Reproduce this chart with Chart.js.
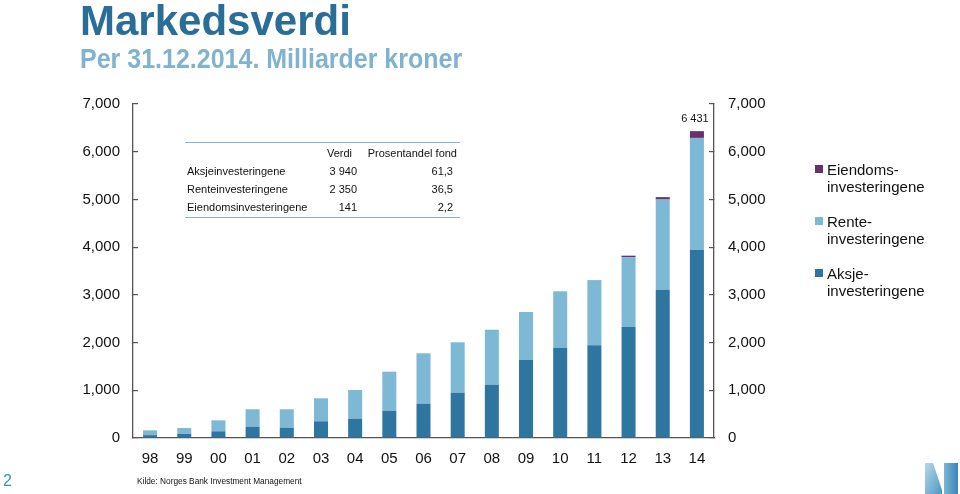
<!DOCTYPE html>
<html>
<head>
<meta charset="utf-8">
<script src="https://cdn.jsdelivr.net/npm/chart.js@4"></script>
<style>
  html, body { margin:0; padding:0; background:#fff; }
  #wrap { position:relative; width:960px; height:494px; overflow:hidden; font-family:"Liberation Sans", Arial, sans-serif; }
  #c { position:absolute; left:0; top:0; }
  .abs { position:absolute; white-space:nowrap; }
  #title { left:80px; top:0px; font-size:42px; line-height:42px; font-weight:bold; color:#2a6e97; }
  #subtitle { left:80px; top:47px; font-size:25px; line-height:25px; font-weight:bold; color:#7fb3d0; transform:scaleY(1.1); transform-origin:0 21px; }
  .tcell { font-size:11px; line-height:12px; color:#111; }
  .tline { position:absolute; left:185px; width:275px; height:0; border-top:1.5px solid #8fb2c8; }
  .leg { font-size:15px; line-height:17px; color:#111; }
  .sq { position:absolute; width:8px; height:8px; }
  #src { left:137px; top:476px; font-size:8.3px; line-height:11px; color:#111; }
  #page { left:3px; top:472px; font-size:16px; line-height:18px; color:#3f8fc0; }
</style>
</head>
<body>
<div id="wrap">
  <canvas id="c" width="960" height="494"></canvas>
  <div id="title" class="abs">Markedsverdi</div>
  <div id="subtitle" class="abs">Per 31.12.2014. Milliarder kroner</div>

  <div class="tline" style="top:142px"></div>
  <div class="tline" style="top:216.5px"></div>
  <div class="abs tcell" style="right:608px;top:147px">Verdi</div>
  <div class="abs tcell" style="right:503px;top:147px">Prosentandel fond</div>
  <div class="abs tcell" style="left:187px;top:165px">Aksjeinvesteringene</div>
  <div class="abs tcell" style="left:187px;top:183px">Renteinvesteringene</div>
  <div class="abs tcell" style="left:187px;top:201px">Eiendomsinvesteringene</div>
  <div class="abs tcell" style="right:603px;top:165px">3 940</div>
  <div class="abs tcell" style="right:603px;top:183px">2 350</div>
  <div class="abs tcell" style="right:603px;top:201px">141</div>
  <div class="abs tcell" style="right:507px;top:165px">61,3</div>
  <div class="abs tcell" style="right:507px;top:183px">36,5</div>
  <div class="abs tcell" style="right:507px;top:201px">2,2</div>

  <div class="sq" style="left:815px;top:165px;background:#6b2f6d"></div>
  <div class="abs leg" style="left:827px;top:161px">Eiendoms-<br>investeringene</div>
  <div class="sq" style="left:815px;top:217px;background:#7db8d5"></div>
  <div class="abs leg" style="left:827px;top:213px">Rente-<br>investeringene</div>
  <div class="sq" style="left:815px;top:269px;background:#2e75a0"></div>
  <div class="abs leg" style="left:827px;top:265px">Aksje-<br>investeringene</div>

  <div id="page" class="abs">2</div>
  <div id="src" class="abs">Kilde: Norges Bank Investment Management</div>

  <svg class="abs" style="left:0;top:0" width="960" height="494">
    <defs>
      <linearGradient id="g1" x1="0" y1="0" x2="1" y2="1">
        <stop offset="0" stop-color="#b6d9ea"/><stop offset="1" stop-color="#4f97c2"/>
      </linearGradient>
      <linearGradient id="g2" x1="0" y1="0" x2="1" y2="0">
        <stop offset="0" stop-color="#7ab6d6"/><stop offset="1" stop-color="#3a85b5"/>
      </linearGradient>
    </defs>
    <polygon points="925,463 933,463 942,490 942,494 925,494" fill="url(#g1)"/>
    <polygon points="944,463 958,463 958,494 944,494" fill="url(#g2)"/>
  </svg>
</div>
<script>
const categories = ['98','99','00','01','02','03','04','05','06','07','08','09','10','11','12','13','14'];
const aksje    = [60, 85, 140, 237, 216, 350, 405, 572, 719, 950, 1117, 1635, 1886, 1943, 2327, 3108, 3940];
const rente    = [100, 125, 230, 365, 386, 482, 601, 818, 1056, 1056, 1153, 1006, 1189, 1362, 1460, 1890, 2350];
const eiendom  = [0, 0, 0, 0, 0, 0, 0, 0, 0, 0, 0, 0, 0, 7, 34, 50, 141];
const yTickLabels = ['0','1,000','2,000','3,000','4,000','5,000','6,000','7,000'];
const seriesNames = ['Aksjeinvesteringene','Renteinvesteringene','Eiendomsinvesteringene'];

const FONT = '"Liberation Sans", Arial, sans-serif';
const last = categories.length - 1;
const lastTotal = aksje[last] + rente[last] + eiendom[last];
const lastLabel = String(lastTotal).replace(/\B(?=(\d{3})+(?!\d))/g, ' ');

const topLabel = {
  id: 'topLabel',
  afterDatasetsDraw(chart) {
    const meta = chart.getDatasetMeta(2);
    const el = meta.data[last];
    const ctx = chart.ctx;
    ctx.save();
    ctx.font = '11px ' + FONT;
    ctx.fillStyle = '#111';
    ctx.textAlign = 'center';
    ctx.textBaseline = 'middle';
    ctx.fillText(lastLabel, el.x - 2, el.y - 12);
    ctx.restore();
  }
};

const yAxisBase = (pos, pad, width) => ({
  type: 'linear',
  position: pos,
  stacked: true,
  min: 0, max: 7000,
  grid: { display: true, drawOnChartArea: false, drawTicks: true, tickLength: -5, color: '#555', lineWidth: 1.2 },
  border: { display: true, color: '#555', width: 1.3 },
  ticks: {
    stepSize: 1000,
    padding: pad,
    color: '#111',
    font: { family: FONT, size: 15 },
    callback: (v, i) => yTickLabels[i]
  },
  afterFit: s => { s.width = width; }
});

new Chart(document.getElementById('c'), {
  type: 'bar',
  data: {
    labels: categories,
    datasets: [
      { label: seriesNames[0], data: aksje, backgroundColor: '#2e75a0', yAxisID: 'y' },
      { label: seriesNames[1], data: rente, backgroundColor: '#7db8d5', yAxisID: 'y' },
      { label: seriesNames[2], data: eiendom, backgroundColor: '#6b2f6d', yAxisID: 'y' }
    ]
  },
  options: {
    responsive: false,
    animation: false,
    devicePixelRatio: 1,
    layout: { padding: { top: 104, left: 0, right: 0, bottom: 0 } },
    datasets: { bar: { barPercentage: 0.41, categoryPercentage: 1.0 } },
    plugins: { legend: { display: false }, tooltip: { enabled: false }, title: { display: false } },
    scales: {
      x: {
        stacked: true,
        grid: { display: false, drawTicks: false },
        border: { display: true, color: '#555', width: 1.3 },
        ticks: { padding: 12, color: '#111', font: { family: FONT, size: 15 }, maxRotation: 0, autoSkip: false },
        afterFit: s => { s.height = 56; }
      },
      y: yAxisBase('left', 18, 133),
      y2: Object.assign(yAxisBase('right', 19, 246), { stacked: false })
    }
  },
  plugins: [topLabel]
});
</script>
</body>
</html>
